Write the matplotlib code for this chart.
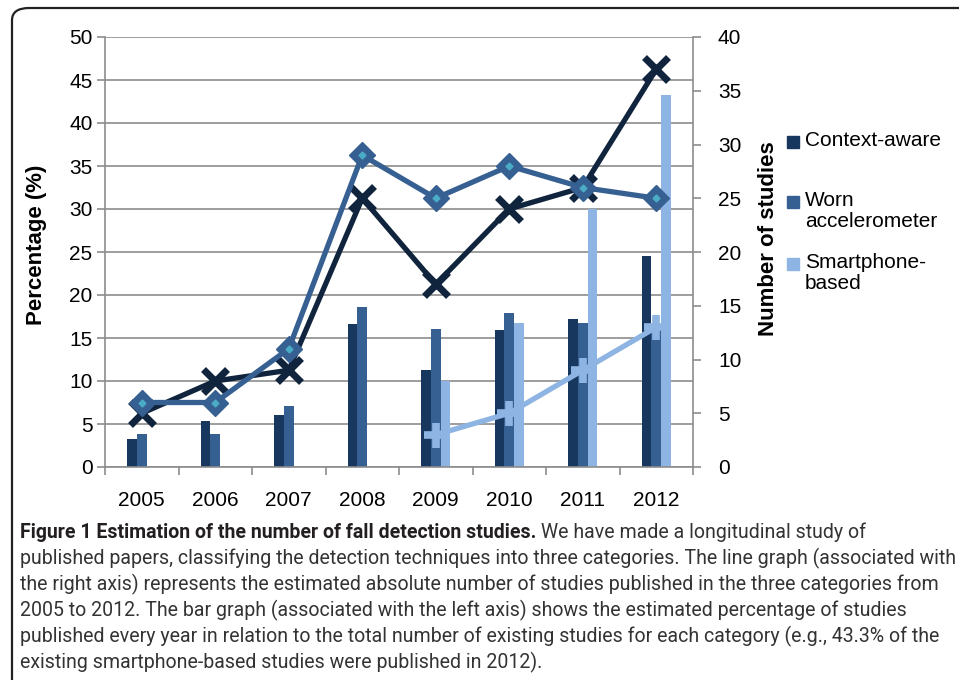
import numpy as np
import matplotlib
matplotlib.use('Agg')
import matplotlib.pyplot as plt
from matplotlib.patches import Rectangle, FancyBboxPatch

plt.rcParams['font.family'] = ['Liberation Sans', 'DejaVu Sans']

# data
years = ['2005', '2006', '2007', '2008', '2009', '2010', '2011', '2012']
series = ['Context-aware', 'Worn\naccelerometer', 'Smartphone-\nbased']

# bar values: percentage of studies per year (left axis)
pct_context = [3.3, 5.3, 6.0, 16.6, 11.3, 15.9, 17.2, 24.5]
pct_worn = [3.8, 3.8, 7.1, 18.6, 16.0, 17.9, 16.7, 16.0]
pct_smart = [0, 0, 0, 0, 10.0, 16.7, 30.0, 43.3]

# line values: number of studies (right axis)
n_context = [5, 8, 9, 25, 17, 24, 26, 37]
n_worn = [6, 6, 11, 29, 25, 28, 26, 25]
n_smart = [np.nan, np.nan, np.nan, np.nan, 3, 5, 9, 13]

c_context = '#17375E'
c_worn = '#376092'
c_smart = '#8DB4E2'
c_context_line = '#10243E'
grid_c = '#8C8C8C'

W, H = 959, 680
fig = plt.figure(figsize=(W / 100, H / 100), dpi=100)

# frame round the figure
frame = FancyBboxPatch((12 / W, -0.1), 1.2, 1 - 8 / H + 0.1,
                       boxstyle='round,pad=0,rounding_size=0.018',
                       transform=fig.transFigure, fill=False,
                       edgecolor='#222222', linewidth=1.6)
fig.add_artist(frame)

ax = fig.add_axes([105 / W, 1 - 467 / H, (693 - 105) / W, (467 - 37) / H])
x = np.arange(len(years))
bw = 0.132

ax.bar(x - bw, pct_context, bw, color=c_context, zorder=2)
ax.bar(x, pct_worn, bw, color=c_worn, zorder=2)
ax.bar(x + bw, pct_smart, bw, color=c_smart, zorder=2)

ax.set_xlim(-0.5, len(years) - 0.5)
ax.set_ylim(0, 50)
ax.set_yticks(np.arange(0, 51, 5))
ax.yaxis.grid(True, color=grid_c, linewidth=1.2, zorder=0)
ax.set_axisbelow(True)
ax.set_xticks(x)
ax.set_xticklabels(years)
ax.set_xticks(np.arange(-0.5, len(years), 1), minor=True)
ax.tick_params(axis='x', which='major', length=0, pad=17, labelsize=15)
ax.tick_params(axis='x', which='minor', length=6, width=1.2, color=grid_c, direction='out')
ax.tick_params(axis='y', length=6, width=1.2, color=grid_c, labelsize=15, pad=3)
for s in ['top', 'right']:
    ax.spines[s].set_visible(False)
for s in ['left', 'bottom']:
    ax.spines[s].set_color(grid_c)
    ax.spines[s].set_linewidth(1.2)
ax.set_ylabel('Percentage (%)', fontsize=16, fontweight='bold')
ax.yaxis.set_label_coords((47 - 105) / 588, (467 - 245) / 430)

ax2 = ax.twinx()
ax2.set_ylim(0, 40)
ax2.set_yticks(np.arange(0, 41, 5))
ax2.tick_params(axis='y', length=6, width=1.2, color=grid_c, labelsize=15, pad=12)
for s in ['top', 'left', 'bottom']:
    ax2.spines[s].set_visible(False)
ax2.spines['right'].set_color(grid_c)
ax2.spines['right'].set_linewidth(1.2)
ax2.set_ylabel('Number of studies', fontsize=16, fontweight='bold', rotation=90)
ax2.yaxis.set_label_coords((758 - 105) / 588, (467 - 239) / 430)

ax2.plot(x, n_smart, color=c_smart, lw=3.8, marker='+', ms=18, mew=5.5, zorder=3)
ax2.plot(x, n_context, color=c_context_line, lw=3.8, marker='x', ms=17, mew=5, zorder=4)
ax2.plot(x, n_worn, color=c_worn, lw=3.8, marker='D', ms=13, mfc=c_worn, mec=c_worn,
         zorder=5)
ax2.plot(x, n_worn, linestyle='none', marker='D', ms=3.5, mfc='#4BACC6', mec='#4BACC6',
         zorder=6)

# legend
leg_items = [(c_context, series[0], 142), (c_worn, series[1], 202), (c_smart, series[2], 264)]
for col, lab, yy in leg_items:
    fig.add_artist(Rectangle((787 / W, 1 - (yy + 6) / H), 12 / W, 12 / H,
                             transform=fig.transFigure, color=col))
    fig.text(805 / W, 1 - (yy - 11) / H, lab, fontsize=15, va='top', ha='left',
             linespacing=1.15)

# caption
cap_font = ['Roboto', 'DejaVu Sans']
cap_lines = [
    'published papers, classifying the detection techniques into three categories. The line graph (associated with',
    'the right axis) represents the estimated absolute number of studies published in the three categories from',
    '2005 to 2012. The bar graph (associated with the left axis) shows the estimated percentage of studies',
    'published every year in relation to the total number of existing studies for each category (e.g., 43.3% of the',
    'existing smartphone-based studies were published in 2012).',
]
cap_x = 20 / W
y0 = 532
r = fig.canvas.get_renderer()

# fit the caption size to the width of the longest line in the reference
probe = fig.text(0, 0, cap_lines[0], fontsize=13, family=cap_font)
pw = probe.get_window_extent(renderer=r).width
probe.remove()
cap_size = 13 * 934 / pw

t_bold = fig.text(cap_x, 1 - y0 / H, 'Figure 1 Estimation of the number of fall detection studies.',
                  fontsize=cap_size, fontweight='bold', family=cap_font, va='center',
                  color='#231F20')
bb = t_bold.get_window_extent(renderer=r)
fig.text(bb.x1 / W, 1 - y0 / H, ' We have made a longitudinal study of',
         fontsize=cap_size, family=cap_font, va='center', color='#333333')
for i, line in enumerate(cap_lines):
    fig.text(cap_x, 1 - (y0 + 26 * (i + 1)) / H, line, fontsize=cap_size, family=cap_font,
             va='center', color='#333333')

fig.savefig('out.png', dpi=100)
